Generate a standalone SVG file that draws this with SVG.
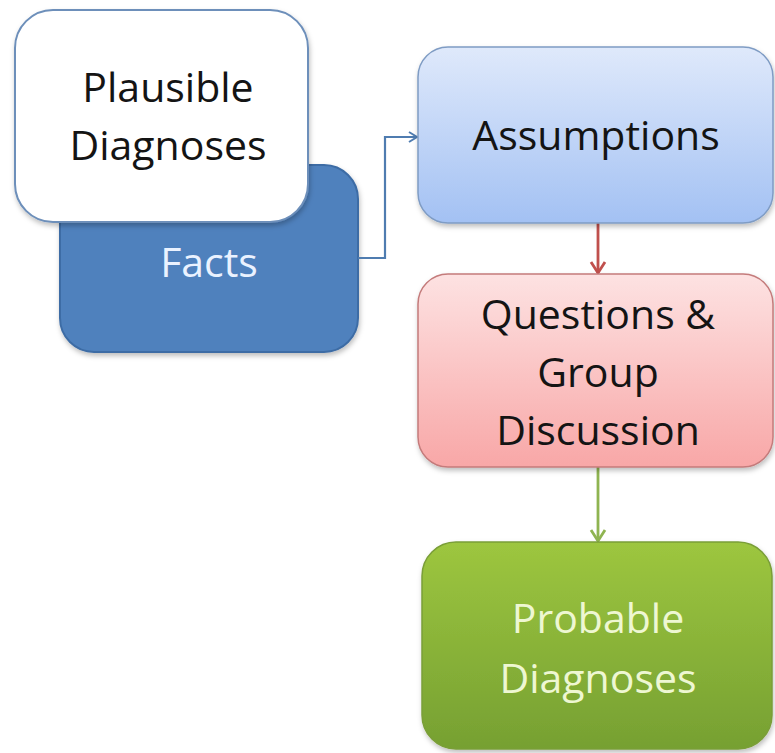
<svg xmlns="http://www.w3.org/2000/svg" width="775" height="753" viewBox="0 0 775 753">
<style>
.lbl{font-family:"Open Sans","Noto Sans",sans-serif;font-size:41px;text-anchor:middle}
.dark{fill:#141414}
.conn{fill:none}
</style>
<defs>
<filter id="sh" x="-10%" y="-10%" width="125%" height="125%">
<feDropShadow dx="1" dy="3" stdDeviation="2.5" flood-color="#000" flood-opacity="0.25"/>
</filter>
<linearGradient id="gBlue" x1="0" y1="0" x2="0" y2="1">
<stop offset="0" stop-color="#dfe9fb"/><stop offset="1" stop-color="#a3c1f3"/>
</linearGradient>
<linearGradient id="gRed" x1="0" y1="0" x2="0" y2="1">
<stop offset="0" stop-color="#fde2e2"/><stop offset="1" stop-color="#f8a7a7"/>
</linearGradient>
<linearGradient id="gGreen" x1="0" y1="0" x2="0" y2="1">
<stop offset="0" stop-color="#9dc63f"/><stop offset="1" stop-color="#76a032"/>
</linearGradient>
<marker id="aBlue" markerUnits="userSpaceOnUse" markerWidth="14" markerHeight="14" refX="11" refY="7" orient="auto">
<path d="M3,2 L11,7 L3,12" fill="none" stroke="#4f7cb0" stroke-width="2"/>
</marker>
<marker id="aRed" markerUnits="userSpaceOnUse" markerWidth="18" markerHeight="18" refX="14" refY="9" orient="auto">
<path d="M3,2 L14,9 L3,16" fill="none" stroke="#c0504d" stroke-width="2.8"/>
</marker>
<marker id="aGreen" markerUnits="userSpaceOnUse" markerWidth="18" markerHeight="18" refX="14" refY="9" orient="auto">
<path d="M3,2 L14,9 L3,16" fill="none" stroke="#8fb451" stroke-width="2.8"/>
</marker>
</defs>
<rect width="775" height="753" fill="#ffffff"/>

<g id="facts">
<rect x="60" y="165" width="298" height="187" rx="34" fill="#4f81bd" stroke="#3d6ca5" stroke-width="2" filter="url(#sh)"/>
<text class="lbl" x="209" y="277" fill="#eaf2ff">Facts</text>
</g>

<g id="plausible">
<rect x="15" y="10" width="293" height="212" rx="38" fill="#ffffff" stroke="#6d8fba" stroke-width="2" filter="url(#sh)"/>
<text class="lbl dark" x="168" y="102">Plausible</text>
<text class="lbl dark" x="168" y="160">Diagnoses</text>
</g>

<g id="connectors">
<path class="conn" d="M358,258 H385 V137 H417" stroke="#4f7cb0" stroke-width="2.2" marker-end="url(#aBlue)"/>
<path class="conn" d="M598,223 V273" stroke="#c0504d" stroke-width="2.8" marker-end="url(#aRed)"/>
<path class="conn" d="M598,467 V541" stroke="#8fb451" stroke-width="2.8" marker-end="url(#aGreen)"/>
</g>

<g id="assumptions">
<rect x="418" y="47" width="355" height="176" rx="30" fill="url(#gBlue)" stroke="#7f9cc4" stroke-width="1.5" filter="url(#sh)"/>
<text class="lbl dark" x="596" y="150">Assumptions</text>
</g>

<g id="questions">
<rect x="418" y="274" width="355" height="193" rx="30" fill="url(#gRed)" stroke="#c47b7b" stroke-width="1.5" filter="url(#sh)"/>
<text class="lbl dark" x="598" y="329">Questions &amp;</text>
<text class="lbl dark" x="598" y="387">Group</text>
<text class="lbl dark" x="598" y="445">Discussion</text>
</g>

<g id="probable">
<rect x="422" y="542" width="350" height="207" rx="34" fill="url(#gGreen)" stroke="#7a9e38" stroke-width="1.5" filter="url(#sh)"/>
<text class="lbl" x="598" y="633" fill="#eef7d2">Probable</text>
<text class="lbl" x="598" y="693" fill="#eef7d2">Diagnoses</text>
</g>
</svg>
